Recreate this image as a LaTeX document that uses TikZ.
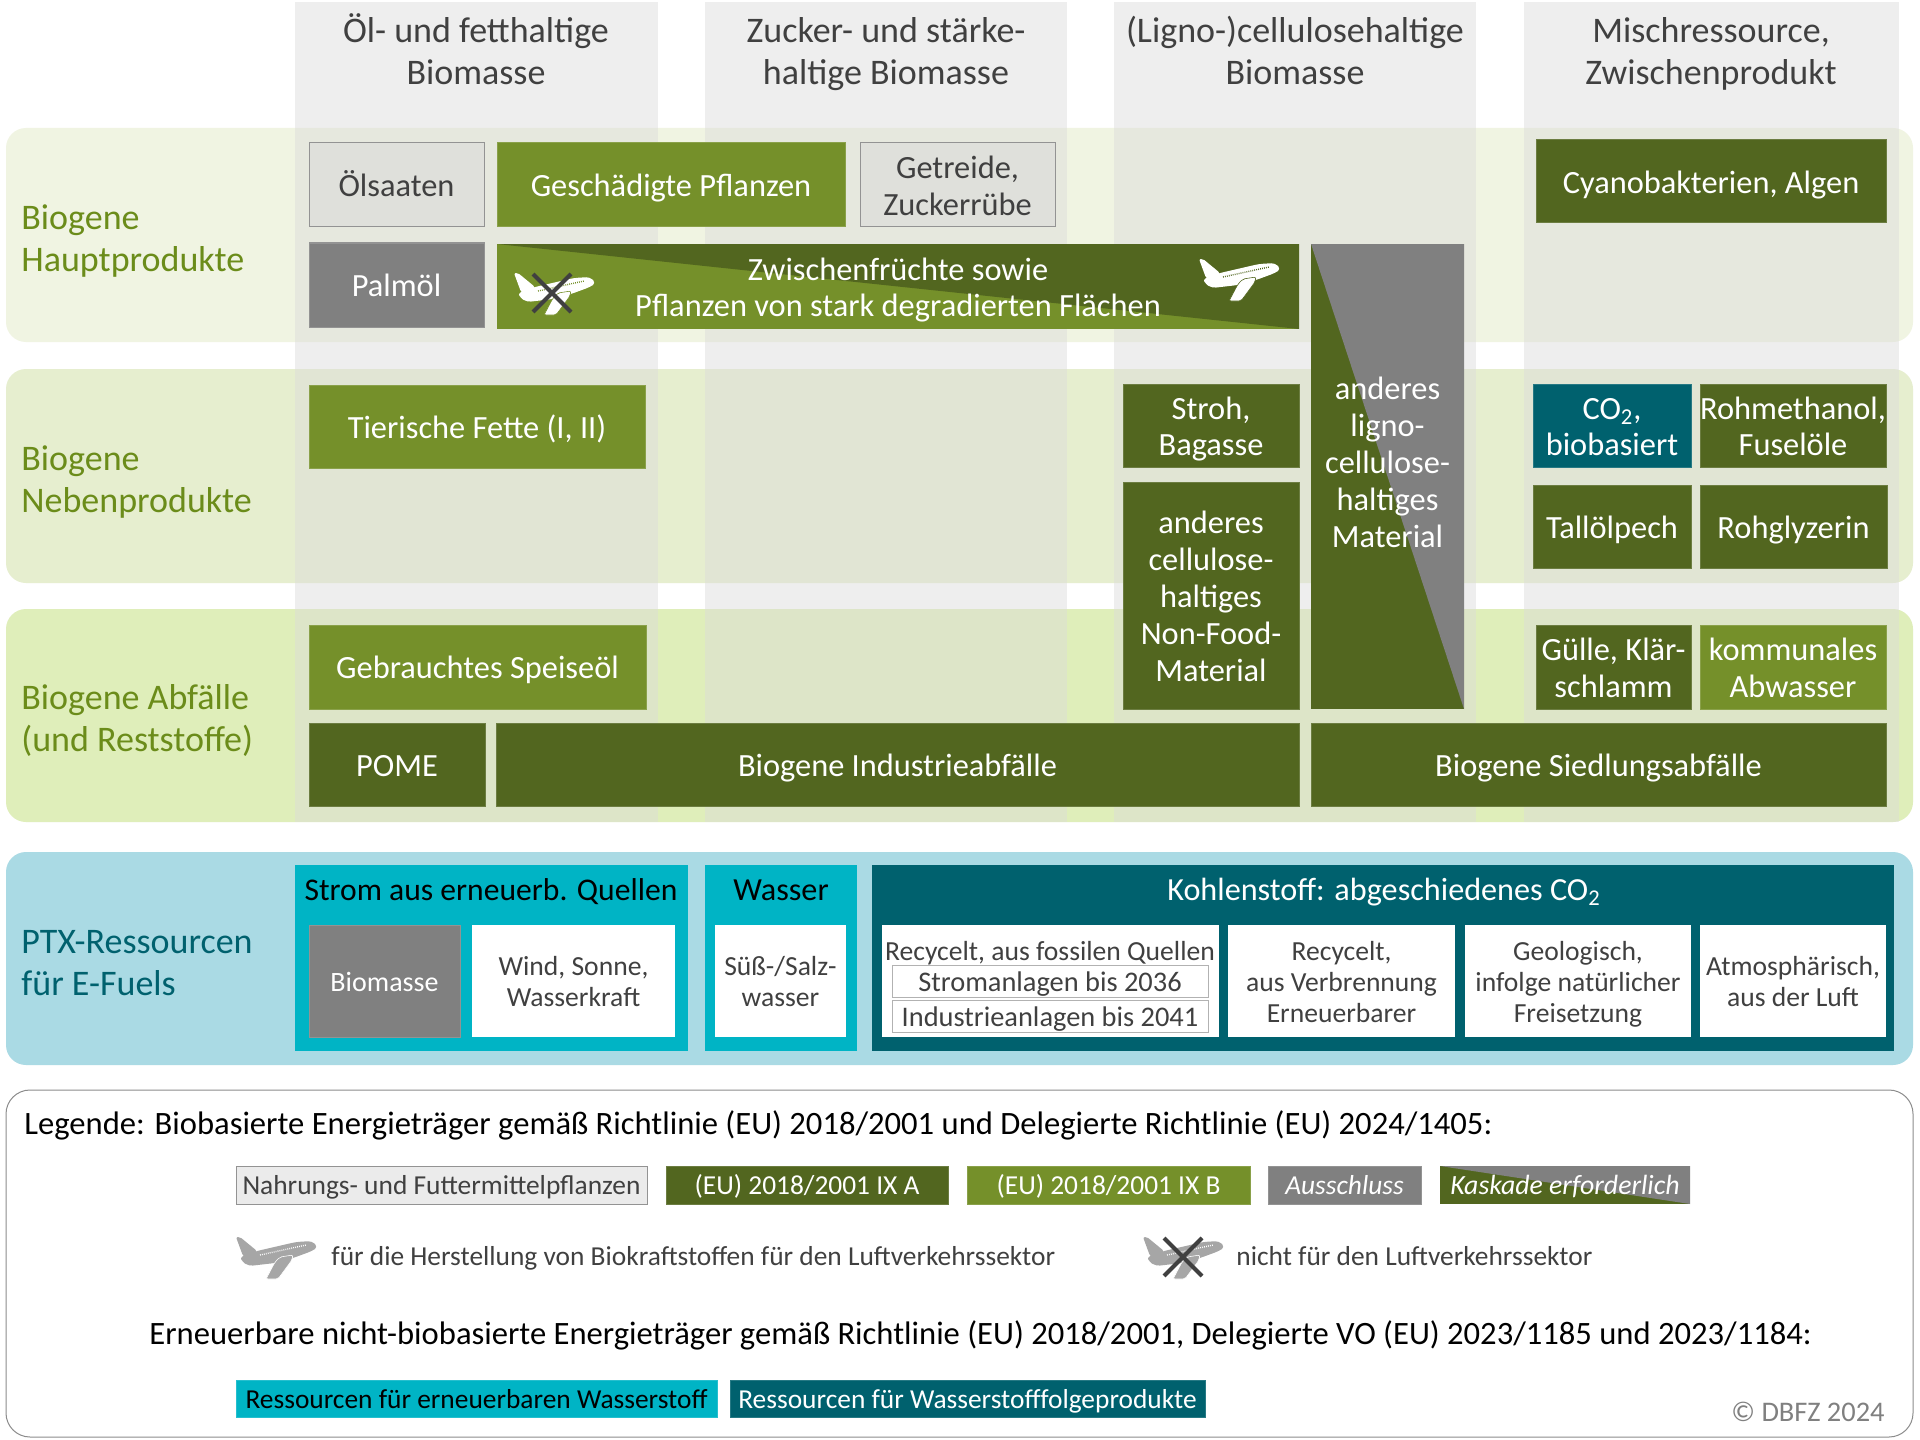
\documentclass[tikz,border=0pt]{standalone}
\usepackage{fontspec}
\setmainfont{Carlito}
\definecolor{dkgreen}{HTML}{52661F}
\definecolor{ltgreen}{HTML}{75902A}
\definecolor{greybox}{HTML}{808080}
\definecolor{food}{HTML}{DFE0DB}
\definecolor{teal}{HTML}{00616E}
\definecolor{cyanb}{HTML}{00B4C5}
\definecolor{rowa}{HTML}{F0F4E2}
\definecolor{rowb}{HTML}{E6EECF}
\definecolor{rowc}{HTML}{DFEEBA}
\definecolor{ptxband}{HTML}{AADAE4}
\definecolor{labgreen}{HTML}{6B8C1A}
\definecolor{txtdark}{HTML}{404040}
\newcommand\fsz[2]{\fontsize{#1pt}{#2pt}\selectfont}
\newcommand\topstrut{\rule{0pt}{.825\baselineskip}}
\newcommand\botstrut{\rule[-.175\baselineskip]{0pt}{.175\baselineskip}}
\newcommand\ml{\rule{0pt}{.83\baselineskip}}
\tikzset{
  x=0.5pt,y=-0.5pt,
  struts/.style={execute at begin node={\topstrut},execute at end node={\botstrut}},
  cell/.style={inner sep=0pt,outer sep=0pt,align=center,font=\fsz{16.2}{18.4},struts,draw=#1!85!white,line width=0.5pt},
  cell/.default=black,
  darkcell/.style={cell=dkgreen,fill=dkgreen,text=white},
  lightcell/.style={cell=ltgreen,fill=ltgreen,text=white},
  greycell/.style={cell=greybox,fill=greybox,text=white},
  foodcell/.style={cell=gray,fill=food,text=txtdark},
  tealcell/.style={cell=teal,fill=teal,text=white},
  cyancell/.style={cell=cyanb,fill=cyanb,text=black},
  whitecell/.style={inner sep=0pt,outer sep=0pt,align=center,fill=white,text=txtdark,struts,font=\fsz{13.8}{15.6}},
  innercell/.style={whitecell,draw=black!30,line width=0.5pt,font=\fsz{14.2}{15.6}},
  headtext/.style={inner sep=0pt,align=center,text=txtdark,struts,font=\fsz{18}{21}},
  rowtext/.style={inner sep=0pt,align=left,anchor=west,text=labgreen,struts,font=\fsz{18}{21}},
  grouptext/.style={inner sep=0pt,struts,font=\fsz{16.1}{18}},
  legtext/.style={inner sep=0pt,anchor=west,text=black,struts,font=\fsz{16.3}{17}},
  legnote/.style={inner sep=0pt,anchor=west,text=txtdark,struts,font=\fsz{13.7}{15}},
  legcell/.style={font=\fsz{13.7}{15}},
  band/.style={rounded corners=10pt,draw=none},
  column/.style={fill=black!14,fill opacity=0.45,draw=none},
  crossline/.style={draw=txtdark,line width=2pt},
  cascadeB/.style={draw=none,path picture={\fill[dkgreen] (path picture bounding box.north west)--(path picture bounding box.north east)--(path picture bounding box.south east)--cycle;}},
  cascadeG/.style={draw=none,path picture={\fill[greybox] (path picture bounding box.north west)--(path picture bounding box.north east)--(path picture bounding box.south east)--cycle;}},
}
% #1 name, #2 style, #3-#6 x0 y0 x1 y1, #7 text
\newcommand\mybox[7]{%
  \pgfmathsetmacro\myw{(#5-#3)*0.5}%
  \pgfmathsetmacro\myh{(#6-#4)*0.5}%
  \pgfmathsetmacro\myx{(#3+#5)/2}%
  \pgfmathsetmacro\myy{(#4+#6)/2}%
  \node[#2,minimum width=\myw pt,minimum height=\myh pt] (#1) at (\myx,\myy) {#7};%
}
% #1 x, #2 y (top left), #3 fill, #4 window colour
\newcommand\planeicon[4]{%
  \begin{scope}[shift={(#1,#2)}]
    \fill[#3,rounded corners=1pt] (0,1)--(4,1)--(21,15)--(12,23)--(7,20)--cycle;
    \fill[#3,rounded corners=2pt] (5,20)--(21,15)--(60,6)--(76,5)--(82,11)--(76,15)--(57,22)--(39,27)--(13,30)--(5,25)--cycle;
    \draw[#4,line width=0.7pt,dash pattern=on 0.4pt off 0.6pt] (24,19)--(70,9);
    \fill[#3,draw=#4,line width=0.3pt,rounded corners=1pt] (44,21)--(57,19)--(56,24)--(42,43)--(30,43)--(39,26)--cycle;
  \end{scope}%
}
\begin{document}
\begin{tikzpicture}
\useasboundingbox (0,0) rectangle (1920,1439);
\fill[white] (0,0) rectangle (1920,1439);
% row bands
\fill[band,rowa] (6,128) rectangle (1913,342);
\fill[band,rowb] (6,369) rectangle (1913,583);
\fill[band,rowc] (6,609) rectangle (1913,822);
% columns
\fill[column] (295,2) rectangle (657.5,822);
\fill[column] (705,2) rectangle (1066.5,822);
\fill[column] (1114,2) rectangle (1476,822);
\fill[column] (1524,2) rectangle (1899,822);
% column heads
\node[headtext] (h1) at (476,50) {\ml Öl- und fetthaltige\\Biomasse};
\node[headtext] (h2) at (886,50) {\ml Zucker- und stärke-\\haltige Biomasse};
\node[headtext] (h3) at (1295,50) {\ml (Ligno-)cellulosehaltige\\Biomasse};
\node[headtext] (h4) at (1711,50) {\ml Mischressource,\\Zwischenprodukt};
% row labels
\node[rowtext] (r1) at (21,237) {\ml Biogene\\Hauptprodukte};
\node[rowtext] (r2) at (21,478) {\ml Biogene\\Nebenprodukte};
\node[rowtext] (r3) at (21,717) {\ml Biogene Abfälle\\(und Reststoffe)};
% row 1
\mybox{oel}{foodcell}{309}{143}{484}{227}{Ölsaaten}
\mybox{gesch}{lightcell}{497}{143}{845}{227}{Geschädigte Pflanzen}
\mybox{getr}{foodcell}{860}{143}{1055}{227}{\ml Getreide,\\Zuckerrübe}
\mybox{cyano}{darkcell}{1536}{140}{1886}{223}{Cyanobakterien, Algen}
\mybox{palm}{greycell}{309}{243}{484}{327}{Palmöl}
\mybox{zw}{lightcell,cascadeB}{497}{244}{1299}{329}{\ml Zwischenfrüchte sowie\\Pflanzen von stark degradierten Flächen}
\planeicon{514}{272}{white}{ltgreen}
\draw[crossline] (533,274)--(571,312) (571,274)--(533,312);
\planeicon{1199}{258}{white}{dkgreen}
\mybox{lig}{darkcell,cascadeG}{1311}{244}{1464}{709}{}
\node[inner sep=0pt,align=center,text=white,struts,font=\fsz{16.2}{18.4}] (ligt) at (1387.5,461.5) {\ml anderes\\ligno-\\cellulose-\\haltiges\\Material};
% row 2
\mybox{tier}{lightcell}{309}{385}{645}{468}{Tierische Fette (I, II)}
\mybox{stroh}{darkcell}{1123}{384}{1299}{467}{\ml Stroh,\\Bagasse}
\mybox{cell}{darkcell}{1123}{482}{1299}{709}{\ml anderes\\cellulose-\\haltiges\\Non-Food-\\Material}
\mybox{co}{tealcell}{1533}{384}{1691}{467}{\ml CO\textsubscript{2},\\biobasiert}
\mybox{rohm}{darkcell}{1700}{384}{1886}{467}{\ml Rohmethanol,\\Fuselöle}
\mybox{tall}{darkcell}{1533}{485}{1691}{568}{Tallölpech}
\mybox{rohg}{darkcell}{1700}{485}{1887}{568}{Rohglyzerin}
% row 3
\mybox{speise}{lightcell}{309}{625}{646}{709}{Gebrauchtes Speiseöl}
\mybox{guelle}{darkcell}{1536}{625}{1691}{709}{\ml Gülle, Klär-\\schlamm}
\mybox{komm}{lightcell}{1700}{625}{1886}{709}{\ml kommunales\\Abwasser}
\mybox{pome}{darkcell}{309}{723}{485}{806}{POME}
\mybox{ind}{darkcell}{496}{723}{1299}{806}{Biogene Industrieabfälle}
\mybox{sied}{darkcell}{1311}{723}{1886}{806}{Biogene Siedlungsabfälle}
% PTX band
\fill[band,ptxband] (6,852) rectangle (1913,1065);
\node[rowtext,text=teal] (r4) at (21,961) {\ml PTX-Ressourcen\\für E-Fuels};
\mybox{strom}{fill=cyanb,inner sep=0pt}{295}{865}{688}{1051}{}
\node[grouptext,font=\fsz{15.8}{18},text=black] (stromt) at (491,889) {Strom aus erneuerb. Quellen};
\mybox{bio}{greycell,font=\fsz{14}{15.6}}{309}{925}{460}{1037}{Biomasse}
\mybox{wind}{whitecell}{472}{925}{675}{1037}{\ml Wind, Sonne,\\Wasserkraft}
\mybox{wass}{fill=cyanb,inner sep=0pt}{705}{865}{857}{1051}{}
\node[grouptext,text=black] (wasst) at (781,889) {Wasser};
\mybox{sw}{whitecell}{715}{925}{846}{1037}{\ml Süß-/Salz-\\wasser}
\mybox{kohl}{fill=teal,inner sep=0pt}{872}{865}{1894}{1051}{}
\node[grouptext,text=white] (kohlt) at (1384,889) {Kohlenstoff: abgeschiedenes CO\textsubscript{2}};
\mybox{rec}{whitecell}{882}{925}{1219}{1037}{}
\node[inner sep=0pt,struts,font=\fsz{13.8}{15.6},text=txtdark] (rect) at (1050,950) {Recycelt, aus fossilen Quellen};
\mybox{stran}{innercell}{892}{967}{1208}{996}{Stromanlagen bis 2036}
\mybox{indan}{innercell}{892}{1002}{1208}{1031}{Industrieanlagen bis 2041}
\mybox{recb}{whitecell}{1228}{925}{1455}{1037}{\ml Recycelt,\\aus Verbrennung\\Erneuerbarer}
\mybox{geo}{whitecell}{1465}{925}{1691}{1037}{\ml Geologisch,\\infolge natürlicher\\Freisetzung}
\mybox{atm}{whitecell}{1700}{925}{1886}{1037}{\ml Atmosphärisch,\\aus der Luft}
% legend
\draw[black!45,line width=0.5pt,rounded corners=12pt] (6,1090) rectangle (1913,1437);
\node[legtext] (leg1) at (24,1123) {Legende: Biobasierte Energieträger gemäß Richtlinie (EU) 2018/2001 und Delegierte Richtlinie (EU) 2024/1405:};
\mybox{l1}{foodcell,legcell,fill=black!8}{236}{1166}{647}{1204}{Nahrungs- und Futtermittelpflanzen}
\mybox{l2}{darkcell,legcell}{666}{1166}{948}{1204}{(EU) 2018/2001 IX A}
\mybox{l3}{lightcell,legcell}{967}{1166}{1250}{1204}{(EU) 2018/2001 IX B}
\mybox{l4}{greycell,legcell,font=\fsz{13.7}{15}\itshape}{1268}{1166}{1421}{1204}{Ausschluss}
\mybox{l5}{darkcell,cascadeG,legcell,font=\fsz{13.9}{15}\itshape}{1440}{1166}{1690}{1204}{Kaskade erforderlich}
\planeicon{236}{1236}{black!35}{white}
\node[legnote] (n1) at (331,1256) {für die Herstellung von Biokraftstoffen für den Luftverkehrssektor};
\planeicon{1143}{1236}{black!35}{white}
\draw[crossline] (1164,1238)--(1202,1276) (1202,1238)--(1164,1276);
\node[legnote] (n2) at (1236,1256) {nicht für den Luftverkehrssektor};
\node[legtext] (leg2) at (149,1333) {Erneuerbare nicht-biobasierte Energieträger gemäß Richtlinie (EU) 2018/2001, Delegierte VO (EU) 2023/1185 und 2023/1184:};
\mybox{l6}{cyancell,legcell}{236}{1380}{717}{1417}{Ressourcen für erneuerbaren Wasserstoff}
\mybox{l7}{tealcell,legcell}{730}{1380}{1205}{1417}{Ressourcen für Wasserstofffolgeprodukte}
\node[inner sep=0pt,anchor=east,text=black!50,struts,font=\fsz{14.2}{15}] (copy) at (1885,1412) {© DBFZ 2024};
\end{tikzpicture}
\end{document}
